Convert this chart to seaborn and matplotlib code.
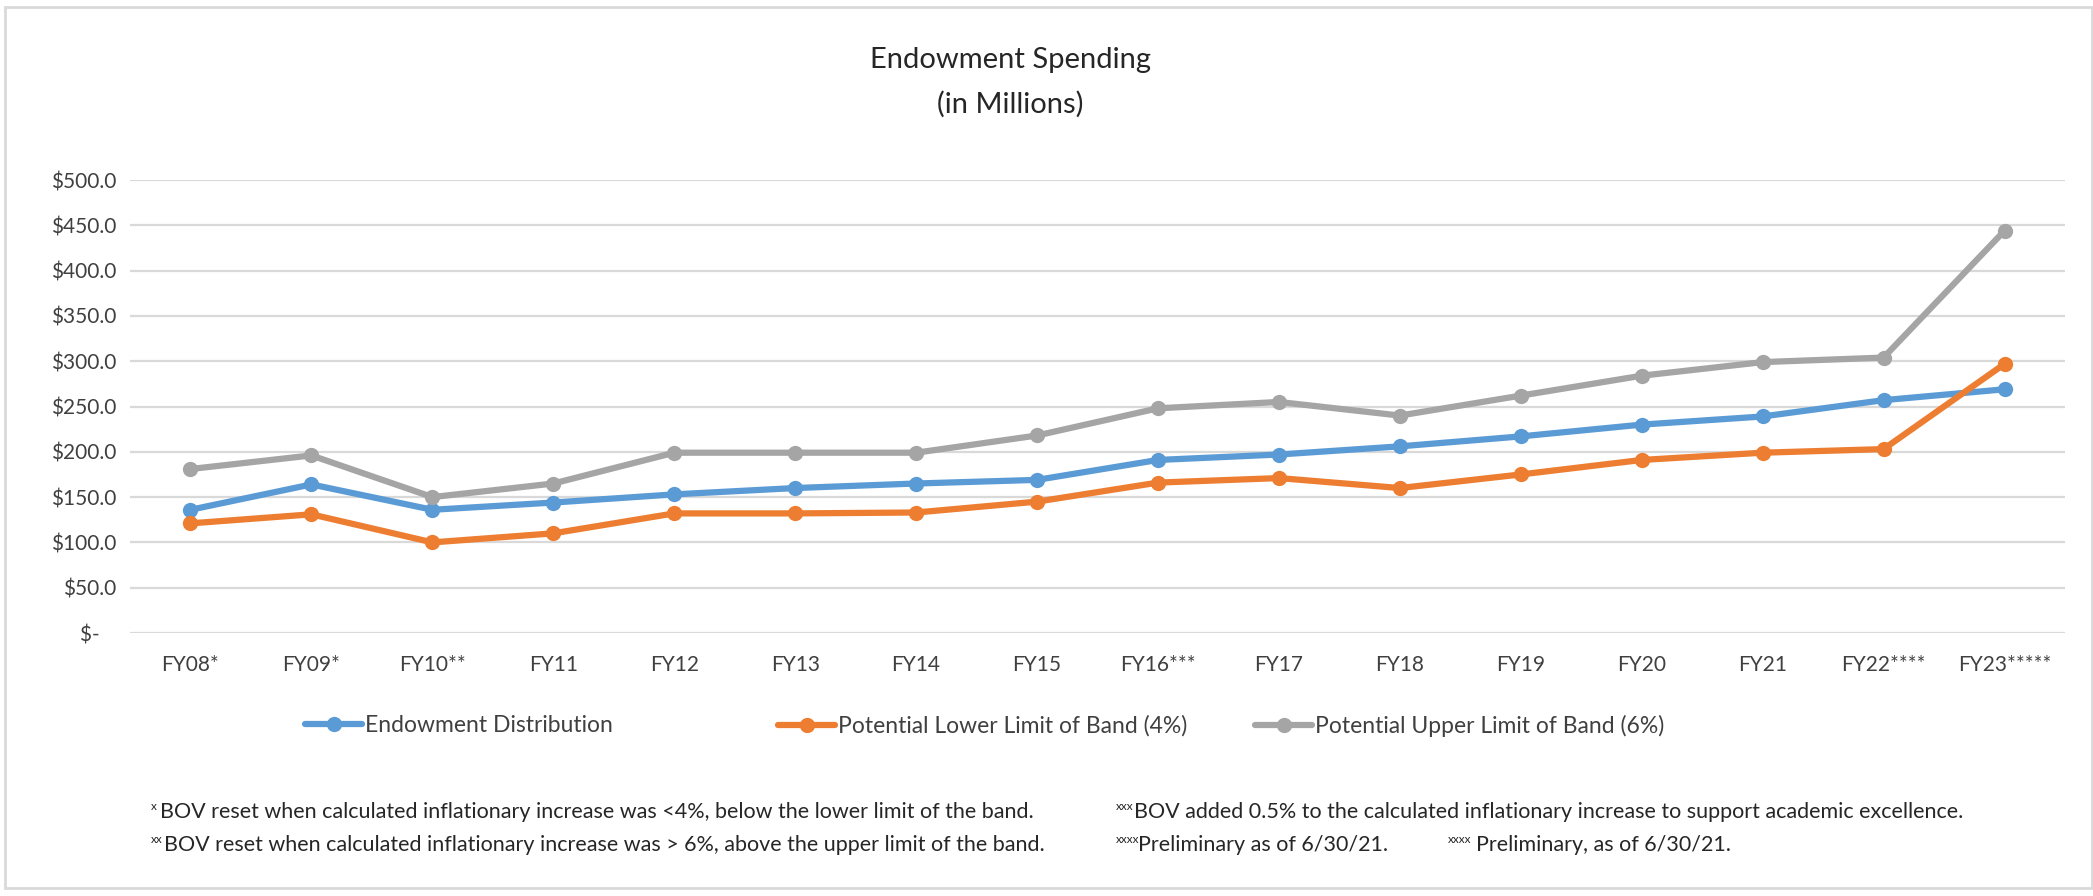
import matplotlib
matplotlib.use("Agg")
import matplotlib.pyplot as plt
import seaborn as sns
import pandas as pd
from matplotlib.patches import Rectangle
from matplotlib.ticker import FuncFormatter, MultipleLocator

# ---------------- data ----------------
years = ["FY08*", "FY09*", "FY10**", "FY11", "FY12", "FY13", "FY14", "FY15",
         "FY16***", "FY17", "FY18", "FY19", "FY20", "FY21", "FY22****", "FY23*****"]
distribution = [136, 164, 136, 144, 153, 160, 165, 169, 191, 197, 206, 217, 230, 239, 257, 269]
lower_band = [121, 131, 100, 110, 132, 132, 133, 145, 166, 171, 160, 175, 191, 199, 203, 297]
upper_band = [181, 196, 150, 165, 199, 199, 199, 218, 248, 255, 240, 262, 284, 299, 304, 444]
series_names = ["Endowment Distribution",
                "Potential Lower Limit of Band (4%)",
                "Potential Upper Limit of Band (6%)"]
series_colors = ["#5B9BD5", "#ED7D31", "#A5A5A5"]
title_lines = ["Endowment Spending", "(in Millions)"]

W, H, DPI = 2093, 896, 100

df = pd.concat([
    pd.DataFrame({"Year": years, "Value": vals, "Series": name})
    for name, vals in zip(series_names, [distribution, lower_band, upper_band])
], ignore_index=True)

sns.set_theme(style="white")
plt.rcParams["font.family"] = ["Lato", "DejaVu Sans"]

fig = plt.figure(figsize=(W / DPI, H / DPI), dpi=DPI)
fig.patch.set_facecolor("white")

def fx(px):
    return px / W

def fy(py):
    return 1 - py / H

ax = fig.add_axes([fx(130), fy(633), fx(2065) - fx(130), fy(180) - fy(633)])

sns.lineplot(data=df, x="Year", y="Value", hue="Series",
             palette=dict(zip(series_names, series_colors)),
             hue_order=series_names, sort=False,
             marker="o", markersize=11, markeredgewidth=0,
             linewidth=4.5, ax=ax)

handles, labels = ax.get_legend_handles_labels()
ax.get_legend().remove()

ax.set_xlim(-0.5, len(years) - 0.5)
ax.set_ylim(0, 500)
ax.yaxis.set_major_locator(MultipleLocator(50))
ax.yaxis.set_major_formatter(FuncFormatter(lambda v, p: "$-   " if v == 0 else f"${v:.1f}"))
ax.grid(axis="y", color="#D9D9D9", linewidth=1.6)
ax.grid(axis="x", visible=False)
for s in ax.spines.values():
    s.set_visible(False)
ax.set_xlabel("")
ax.set_ylabel("")
ax.tick_params(axis="y", length=0, pad=10, labelsize=15, labelcolor="#404040")
ax.tick_params(axis="x", length=0, pad=16, labelsize=15, labelcolor="#404040")

# title
fig.text(fx(1010), fy(60), title_lines[0], ha="center", va="center", fontsize=21, color="#262626")
fig.text(fx(1010), fy(104), title_lines[1], ha="center", va="center", fontsize=21, color="#262626")

# legend: three separate entries placed like the reference
legend_x = [305, 778, 1255]
for h, l, x in zip(handles, labels, legend_x):
    lg = fig.legend([h], [l], loc="center left", bbox_to_anchor=(fx(x), fy(726)),
                    frameon=False, fontsize=16.5, handlelength=2.5, handletextpad=0.1,
                    borderaxespad=0, borderpad=0)
    for t in lg.get_texts():
        t.set_color("#404040")

# footnotes
foot_color = "#262626"
foot_size = 15.5

def footnote(sup_px, text_px, y_px, sup, text):
    fig.text(fx(sup_px), fy(y_px - 6), sup, fontsize=8.5, ha="left", va="center", color=foot_color)
    return fig.text(fx(text_px), fy(y_px), text, fontsize=foot_size, ha="left", va="center", color=foot_color)

footnote(151, 160, 812, "x", "BOV reset when calculated inflationary increase was <4%, below the lower limit of the band.")
footnote(151, 164, 845, "xx", "BOV reset when calculated inflationary increase was > 6%, above the upper limit of the band.")
footnote(1116, 1134, 812, "xxx", "BOV added 0.5% to the calculated inflationary increase to support academic excellence.")
prev = footnote(1116, 1138, 845, "xxxx", "Preliminary as of 6/30/21.")
sup2 = ax.annotate("xxxx", xy=(1, 0.5), xycoords=prev, xytext=(60, 6),
                   textcoords="offset pixels", fontsize=8.5, ha="left", va="center",
                   color=foot_color, annotation_clip=False)
ax.annotate("Preliminary, as of 6/30/21.", xy=(1, 0.5), xycoords=sup2, xytext=(4, -6),
            textcoords="offset pixels", fontsize=foot_size, ha="left", va="center",
            color=foot_color, annotation_clip=False)

# outer frame
fig.patches.append(Rectangle((fx(5), fy(888)), fx(2092) - fx(5), fy(7) - fy(888),
                             transform=fig.transFigure, fill=False,
                             edgecolor="#D9D9D9", linewidth=2))

fig.savefig("out.png", dpi=DPI, facecolor="white")
